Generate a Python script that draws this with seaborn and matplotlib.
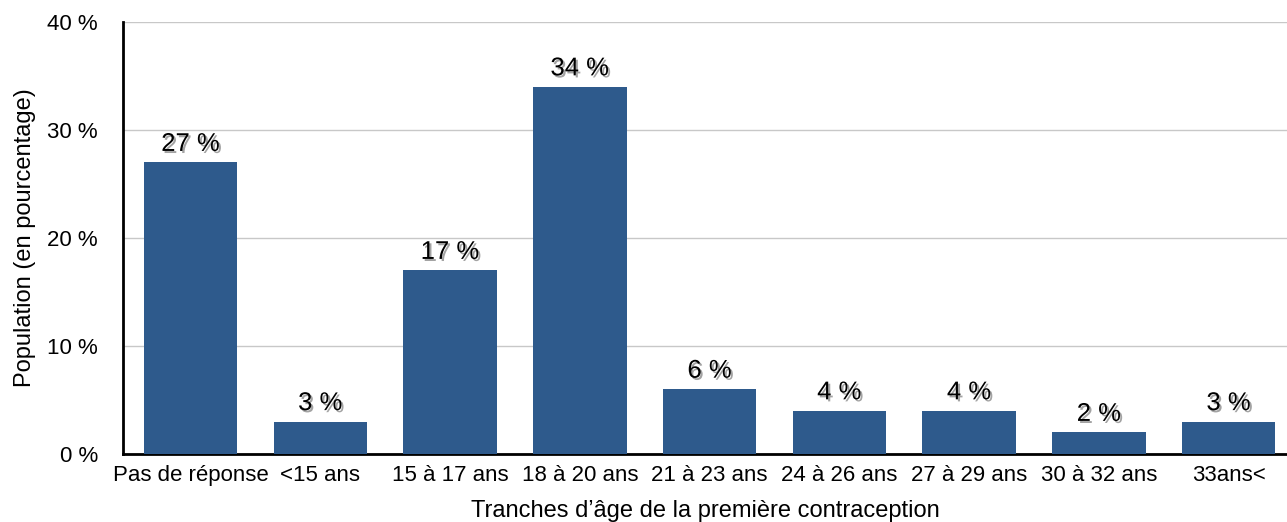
import matplotlib
matplotlib.use("Agg")
import matplotlib.pyplot as plt
import matplotlib.patheffects as pe
import pandas as pd
import seaborn as sns

categories = ["Pas de réponse", "<15 ans", "15 à 17 ans", "18 à 20 ans", "21 à 23 ans",
              "24 à 26 ans", "27 à 29 ans", "30 à 32 ans", "33ans<"]
values = [27, 3, 17, 34, 6, 4, 4, 2, 3]
y_ticks = [0, 10, 20, 30, 40]

sns.set_theme(style="white")
plt.rcParams["font.family"] = ["Liberation Sans", "DejaVu Sans"]

df = pd.DataFrame({"cat": categories, "val": values})

fig = plt.figure(figsize=(12.87, 5.22), dpi=100)
ax = fig.add_axes([0.0956, 0.1303, 0.9044, 0.8275])
sns.barplot(data=df, x="cat", y="val", color="#2E5A8C", saturation=1,
            width=0.72, linewidth=0, ax=ax, zorder=3)

ax.set_ylim(0, 40)
ax.set_xlim(-0.52, 8.45)
ax.set_yticks(y_ticks)
ax.set_yticklabels([f"{t} %" for t in y_ticks])
ax.yaxis.grid(True, color="#c8c8c8", lw=1, zorder=0)
ax.tick_params(axis="both", labelsize=16, length=0, colors="black")
ax.tick_params(axis="x", pad=8)
ax.tick_params(axis="y", pad=18)
for s in ["top", "right"]:
    ax.spines[s].set_visible(False)
for s in ["left", "bottom"]:
    ax.spines[s].set_color("black")
    ax.spines[s].set_linewidth(2)

for i, v in enumerate(values):
    ax.text(i, v + 0.6, f"{v} %", ha="center", va="bottom", fontsize=18.5,
            color="black",
            path_effects=[pe.withSimplePatchShadow(offset=(1.5, -1.5),
                                                   shadow_rgbFace="#333333",
                                                   alpha=0.45)])

ax.set_xlabel("Tranches d’âge de la première contraception", fontsize=17,
              labelpad=10, color="black")
ax.set_ylabel("Population (en pourcentage)", fontsize=17, labelpad=8, color="black")

fig.savefig("out.png", dpi=100)
